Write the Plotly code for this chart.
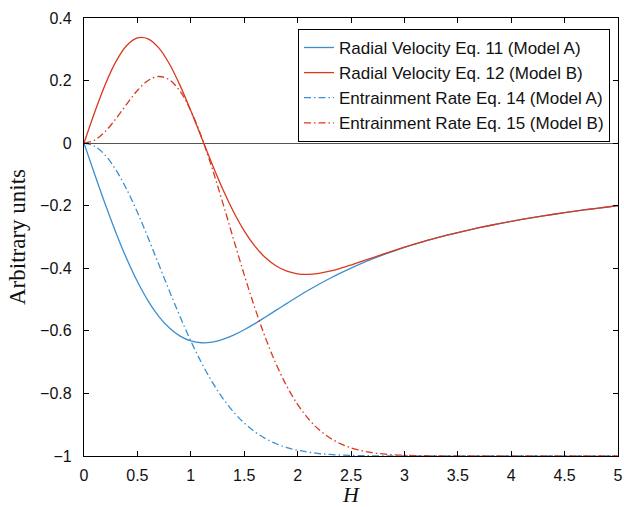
import plotly.graph_objects as go

H = [round(0.1 * i, 1) for i in range(51)]

radial_A = [0.0, -0.0995, -0.1961, -0.2869, -0.3697, -0.4424, -0.5039, -0.5534, -0.5909, -0.6168,
            -0.6321, -0.6380, -0.6359, -0.6273, -0.6137, -0.5964, -0.5767, -0.5555, -0.5338, -0.5121,
            -0.4908, -0.4704, -0.4510, -0.4326, -0.4154, -0.3992, -0.3842, -0.3701, -0.3570, -0.3448,
            -0.3333, -0.3226, -0.3125, -0.3030, -0.2941, -0.2857, -0.2778, -0.2703, -0.2632, -0.2564,
            -0.2500, -0.2439, -0.2381, -0.2326, -0.2273, -0.2222, -0.2174, -0.2128, -0.2083, -0.2041,
            -0.2000]

radial_B = [0.0, 0.0990, 0.1885, 0.2613, 0.3120, 0.3364, 0.3333, 0.3043, 0.2528, 0.1839,
            0.1036, 0.0180, -0.0673, -0.1475, -0.2193, -0.2802, -0.3293, -0.3666, -0.3928, -0.4093,
            -0.4176, -0.4193, -0.4161, -0.4094, -0.4003, -0.3896, -0.3782, -0.3664, -0.3548, -0.3435,
            -0.3326, -0.3222, -0.3122, -0.3029, -0.2941, -0.2857, -0.2778, -0.2703, -0.2632, -0.2564,
            -0.2500, -0.2439, -0.2381, -0.2326, -0.2273, -0.2222, -0.2174, -0.2128, -0.2083, -0.2041,
            -0.2000]

entrain_A = [0.0, -0.0100, -0.0392, -0.0861, -0.1479, -0.2212, -0.3023, -0.3874, -0.4727, -0.5551,
             -0.6321, -0.7018, -0.7631, -0.8155, -0.8591, -0.8946, -0.9227, -0.9444, -0.9608, -0.9730,
             -0.9817, -0.9878, -0.9921, -0.9950, -0.9969, -0.9981, -0.9988, -0.9993, -0.9996, -0.9998,
             -0.9999, -1.0, -1.0, -1.0, -1.0, -1.0, -1.0, -1.0, -1.0, -1.0,
             -1.0, -1.0, -1.0, -1.0, -1.0, -1.0, -1.0, -1.0, -1.0, -1.0,
             -1.0]

entrain_B = [0.0, 0.0099, 0.0377, 0.0784, 0.1248, 0.1682, 0.2000, 0.2130, 0.2022, 0.1655,
             0.1036, 0.0198, -0.0807, -0.1918, -0.3070, -0.4203, -0.5269, -0.6232, -0.7071, -0.7776,
             -0.8351, -0.8806, -0.9155, -0.9416, -0.9606, -0.9739, -0.9832, -0.9894, -0.9935, -0.9961,
             -0.9977, -0.9987, -0.9992, -0.9996, -0.9998, -0.9999, -1.0, -1.0, -1.0, -1.0,
             -1.0, -1.0, -1.0, -1.0, -1.0, -1.0, -1.0, -1.0, -1.0, -1.0,
             -1.0]

names = ["Radial Velocity Eq. 11 (Model A)", "Radial Velocity Eq. 12 (Model B)",
         "Entrainment Rate Eq. 14 (Model A)", "Entrainment Rate Eq. 15 (Model B)"]

BLUE = "#3b8fd0"
RED = "#d9381e"
DASHDOT = "7px,3px,1.5px,3px"

fig = go.Figure()
for y, name, color, dash in [(radial_A, names[0], BLUE, "solid"),
                             (radial_B, names[1], RED, "solid"),
                             (entrain_A, names[2], BLUE, DASHDOT),
                             (entrain_B, names[3], RED, DASHDOT)]:
    fig.add_trace(go.Scatter(x=H, y=y, mode="lines", name=name,
                             line=dict(color=color, width=1.3, dash=dash, shape="spline")))

axis_common = dict(showgrid=False, showline=True, linecolor="black", linewidth=1.2,
                   mirror="ticks", ticks="inside", ticklen=5, tickcolor="black",
                   ticklabeloverflow="allow", automargin=False,
                   tickfont=dict(family="Liberation Sans, Arial", size=16, color="#111"))

fig.update_layout(
    width=624, height=507,
    margin=dict(l=84, r=6, t=18, b=51),
    plot_bgcolor="white", paper_bgcolor="white",
    showlegend=True,
    legend=dict(x=0.985, y=0.975, xanchor="right", yanchor="top",
                bordercolor="black", borderwidth=1, bgcolor="white",
                font=dict(family="Liberation Sans, Arial", size=17, color="#111"),
                tracegroupgap=0, itemwidth=30),
    xaxis=dict(range=[0, 5], tick0=0, dtick=0.5, zeroline=False,
               title=dict(text="<i>H</i>", standoff=2,
                          font=dict(family="Liberation Serif, Times New Roman", size=22, color="#111")),
               ticklabelstandoff=5,
               **axis_common),
    yaxis=dict(range=[-1, 0.4], tick0=-1, dtick=0.2, zeroline=True, zerolinecolor="#555",
               zerolinewidth=1.2,
               title=dict(text="Arbitrary units", standoff=8,
                          font=dict(family="Liberation Serif, Times New Roman", size=23, color="#111")),
               ticklabelstandoff=8,
               **axis_common),
)

fig.write_html("out.html")
